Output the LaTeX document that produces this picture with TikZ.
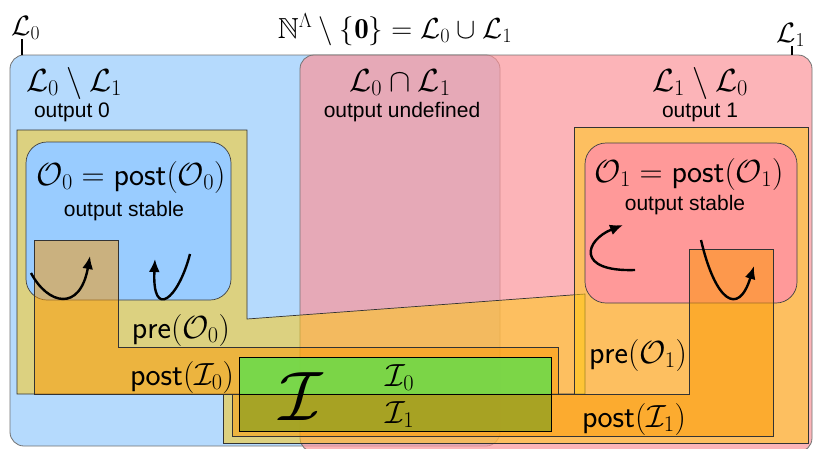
\documentclass[tikz,border=0pt]{standalone}
\usepackage{fix-cm}
\usepackage{amsmath}
\usepackage{amssymb}
\usepackage{fontspec}
\newfontfamily\outfont{Liberation Sans}
\usetikzlibrary{arrows.meta}
\definecolor{setblue}{RGB}{181,218,253}
\definecolor{setpink}{RGB}{252,149,154}
\definecolor{preyellow}{RGB}{255,202,18}
\definecolor{postorange}{RGB}{252,152,0}
\definecolor{stableblue}{RGB}{153,204,255}
\definecolor{stablepink}{RGB}{255,153,153}
\definecolor{initgreen}{RGB}{102,222,76}
\definecolor{initolive}{RGB}{154,162,34}
\tikzset{
  setregion/.style = {draw=black!55, line width=0.8pt, rounded corners=14pt},
  preregion/.style = {draw=black!80, line width=0.7pt, fill=preyellow, fill opacity=0.53},
  postregion/.style = {draw=black!80, line width=0.7pt, fill=postorange, fill opacity=0.5},
  stableregion/.style = {draw=black!75, line width=0.7pt, rounded corners=21pt},
  initregion/.style = {draw=black, line width=0.7pt, fill opacity=0.85},
  setlabel/.style = {inner sep=0pt, font=\fontsize{32}{36}\selectfont},
  outtext/.style = {inner sep=0pt, font=\outfont\fontsize{21}{24}\selectfont},
  tagline/.style = {line width=2pt},
  flowarrow/.style = {-{Latex[length=13pt,width=11pt]}, line width=2.4pt}
}
\begin{document}
\begin{tikzpicture}[x=1pt, y=-1pt]
\useasboundingbox[fill=white] (0,0) rectangle (813,448);

\draw[setregion, fill=setblue] (10,55) rectangle (500,446);
\draw[setregion, fill=setpink, fill opacity=0.7] (300,55) rectangle (812,452);

\draw[preregion] (17,130) -- (247,130) -- (247,319) -- (585,294) -- (585,394) -- (17,394) -- cycle;
\draw[preregion] (574,127) -- (808,127) -- (808,443) -- (223,443) -- (223,394) -- (574,394) -- cycle;

\draw[stableregion, fill=stableblue] (26,142) rectangle (231,300);
\draw[stableregion, fill=stablepink] (585,143) rectangle (797,303);

\draw[postregion] (34,240) -- (118,240) -- (118,347) -- (558,347) -- (558,394) -- (34,394) -- cycle;
\draw[postregion] (689,249) -- (773,249) -- (773,436) -- (232,436) -- (232,394) -- (689,394) -- cycle;

\draw[initregion, fill=initgreen] (239,357) rectangle (551,394);
\draw[initregion, fill=initolive] (239,394) rectangle (551,431);

\draw[flowarrow] (31,273) .. controls (48,305) and (80,312) .. (90,256);
\draw[flowarrow] (190,254) .. controls (178,300) and (152,320) .. (155,259);
\draw[flowarrow] (635,270) .. controls (575,272) and (585,240) .. (623,225);
\draw[flowarrow] (701,240) .. controls (715,300) and (738,318) .. (754,266);

\node[setlabel, font=\fontsize{29}{34}\selectfont, anchor=base] (title) at (395,38)
  {$\mathbb{N}^{\Lambda} \setminus \{\mathbf{0}\} = \mathcal{L}_0 \cup \mathcal{L}_1$};
\node[setlabel, font=\fontsize{28}{32}\selectfont, anchor=base west] (l0tag) at (11,35) {$\mathcal{L}_0$};
\node[setlabel, font=\fontsize{28}{32}\selectfont, anchor=base west] (l1tag) at (776,42) {$\mathcal{L}_1$};
\coordinate (l0foot) at (22,55);
\coordinate (l1foot) at (792,55);
\draw[tagline] (l0foot) -- (l0foot |- l0tag.south);
\draw[tagline] (l1foot) -- (l1foot |- l1tag.south);

\node[setlabel, anchor=base] (l0only) at (74,91) {$\mathcal{L}_0 \setminus \mathcal{L}_1$};
\node[outtext, anchor=base] (out0) at (72,117) {output 0};
\node[setlabel, anchor=base] (both) at (400,91) {$\mathcal{L}_0 \cap \mathcal{L}_1$};
\node[outtext, anchor=base] (outund) at (402,117) {output undefined};
\node[setlabel, anchor=base] (l1only) at (700,91) {$\mathcal{L}_1 \setminus \mathcal{L}_0$};
\node[outtext, anchor=base] (out1) at (700,117) {output 1};

\node[setlabel, anchor=base] (o0) at (131,185) {$\mathcal{O}_0 = \mathsf{post}(\mathcal{O}_0)$};
\node[outtext, anchor=base] (stable0) at (124,216) {output stable};
\node[setlabel, anchor=base] (o1) at (689,182) {$\mathcal{O}_1 = \mathsf{post}(\mathcal{O}_1)$};
\node[outtext, anchor=base] (stable1) at (685,210) {output stable};

\node[setlabel, anchor=base] (pre0) at (181,338) {$\mathsf{pre}(\mathcal{O}_0)$};
\node[setlabel, anchor=base] (post0) at (182,385) {$\mathsf{post}(\mathcal{I}_0)$};
\node[setlabel, anchor=base] (pre1) at (638,363) {$\mathsf{pre}(\mathcal{O}_1)$};
\node[setlabel, anchor=base] (post1) at (634,427) {$\mathsf{post}(\mathcal{I}_1)$};

\node[setlabel, anchor=base] (init0) at (400,386) {$\mathcal{I}_0$};
\node[setlabel, anchor=base] (init1) at (400,423) {$\mathcal{I}_1$};
\node[setlabel, font=\fontsize{70}{76}\selectfont, anchor=base] (init) at (301,420) {$\mathcal{I}$};
\end{tikzpicture}
\end{document}
